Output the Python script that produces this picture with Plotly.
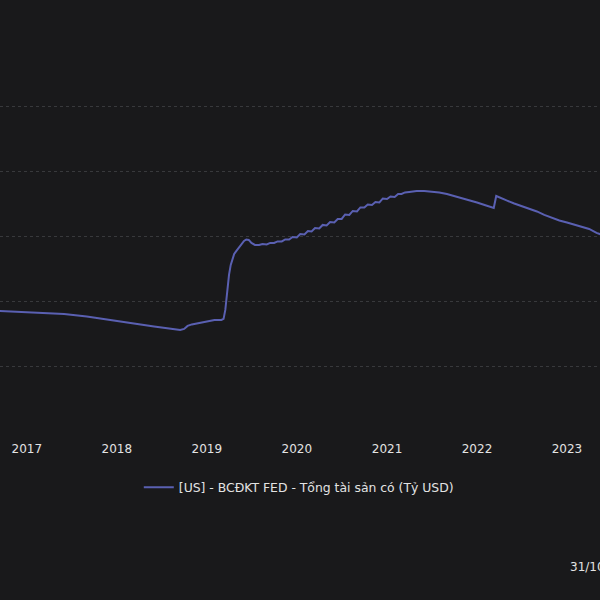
import plotly.graph_objects as go

series_name = "[US] - BCĐKT FED - Tổng tài sản có (Tỷ USD)"
footnote = "31/10/2023"

dates = [
    "2016-06-01", "2016-09-01", "2016-12-01", "2017-03-01", "2017-06-01", "2017-09-01",
    "2017-12-01", "2018-03-01", "2018-06-01", "2018-08-01", "2018-09-15", "2018-10-01",
    "2018-10-15", "2018-11-01", "2018-12-01", "2019-01-01", "2019-02-01", "2019-03-01",
    "2019-03-10", "2019-03-17", "2019-03-24", "2019-04-01", "2019-04-08", "2019-04-15",
    "2019-04-22", "2019-05-01", "2019-05-15", "2019-06-01", "2019-06-10", "2019-06-20",
    "2019-07-01", "2019-07-15", "2019-08-01", "2019-08-15", "2019-09-01", "2019-09-15",
    "2019-10-01", "2019-10-15", "2019-11-01", "2019-11-15", "2019-12-01", "2019-12-15",
    "2020-01-01", "2020-01-15", "2020-02-01", "2020-02-15", "2020-03-01", "2020-03-15",
    "2020-04-01", "2020-04-15", "2020-05-01", "2020-05-15", "2020-06-01", "2020-06-15",
    "2020-07-01", "2020-07-15", "2020-08-01", "2020-08-15", "2020-09-01", "2020-09-15",
    "2020-10-01", "2020-10-15", "2020-11-01", "2020-11-15", "2020-12-01", "2020-12-15",
    "2021-01-01", "2021-01-15", "2021-02-01", "2021-02-15", "2021-03-01", "2021-03-15",
    "2021-04-01", "2021-05-01", "2021-06-01", "2021-07-01", "2021-08-01", "2021-09-01",
    "2021-10-01", "2021-11-01", "2021-12-01", "2022-01-01", "2022-02-01", "2022-03-01",
    "2022-03-10", "2022-03-20", "2022-04-01", "2022-05-01", "2022-06-01", "2022-07-01",
    "2022-08-01", "2022-09-01", "2022-10-01", "2022-11-01", "2022-12-01", "2023-01-01",
    "2023-02-01", "2023-03-01", "2023-04-01", "2023-05-01", "2023-06-01", "2023-07-01",
    "2023-08-01", "2023-09-01", "2023-10-01", "2023-10-31",
]

total_assets = [
    4692, 4654, 4635, 4596, 4538, 4442,
    4308, 4173, 4058, 3981, 3923, 3961,
    4077, 4135, 4192, 4269, 4308, 4308,
    4346, 4692, 5461, 6038, 6423, 6692,
    6846, 6962, 7154, 7346, 7404, 7385,
    7269, 7192, 7192, 7231, 7212, 7269,
    7269, 7327, 7327, 7404, 7404, 7500,
    7481, 7615, 7596, 7731, 7712, 7846,
    7827, 7962, 7942, 8077, 8058, 8192,
    8192, 8365, 8346, 8500, 8481, 8635,
    8635, 8750, 8731, 8846, 8827, 8981,
    8962, 9058, 9038, 9154, 9154, 9212,
    9231, 9269, 9269, 9250, 9212, 9154,
    9077, 9000, 8923, 8827, 8731, 8635,
    8615, 9077, 9019, 8904, 8788, 8692,
    8596, 8481, 8346, 8231, 8135, 8058,
    7981, 7904, 7808, 7654, 7538, 7462,
    7385, 7308, 7250, 7192,
]

x_range = ["2016-09-14", "2023-05-15"]
y_range = [-5, 14308]
y_step = 2500

BG = "#19191b"
TXT = "#e3e3e3"
GRID = "#38393c"
LINE = "#5a60b2"

fig = go.Figure()
fig.add_trace(go.Scatter(
    x=dates, y=total_assets, mode="lines", name=series_name,
    line=dict(color=LINE, width=2),
))

fig.update_layout(
    width=600, height=600,
    paper_bgcolor=BG, plot_bgcolor=BG,
    margin=dict(l=0, r=0, t=60, b=168),
    font=dict(family="DejaVu Sans", color=TXT, size=12),
    showlegend=True,
    legend=dict(orientation="h", x=0.498, xanchor="center", y=-0.15, yanchor="middle",
                font=dict(size=12.4, color=TXT), bgcolor="rgba(0,0,0,0)"),
    xaxis=dict(type="date", range=x_range, tick0="2017-01-01", dtick="M12",
               tickformat="%Y", showgrid=False, zeroline=False, showline=False,
               ticks="outside", ticklen=6, tickcolor=BG, tickfont=dict(size=12, color=TXT)),
    yaxis=dict(range=y_range, dtick=y_step, tick0=0, showticklabels=False,
               showgrid=True, gridcolor=GRID, griddash="dot", gridwidth=1,
               zeroline=False, showline=False),
    annotations=[dict(text=footnote, xref="paper", yref="paper", x=0.947, y=-0.363,
                      xanchor="left", yanchor="middle", showarrow=False,
                      font=dict(size=12, color=TXT))],
)

fig.write_html(
    "out.html",
    config={"displayModeBar": False},
    post_script="document.body.style.margin='0';document.body.style.overflow='hidden';"
                "document.body.style.background='" + BG + "';",
)
